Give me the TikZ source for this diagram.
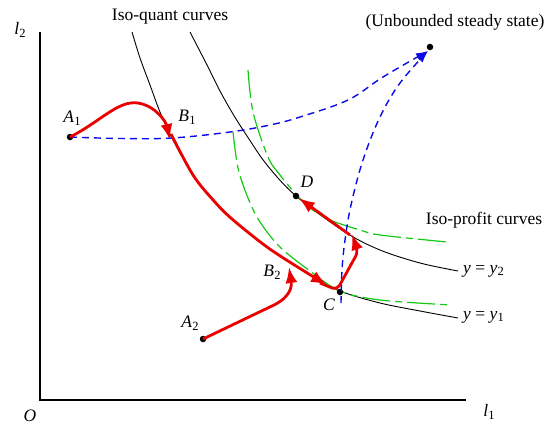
\documentclass[tikz,border=0pt]{standalone}
\usepackage{fontspec}
\setmainfont{Liberation Serif}
\usetikzlibrary{arrows.meta}
\newcommand\sublab[2]{\textit{#1}\kern0.3pt\raisebox{-0.35ex}{\fontsize{12.5}{14}\selectfont #2}}
\definecolor{pgreen}{RGB}{20,200,20}
\definecolor{pblue}{RGB}{10,10,230}
\definecolor{pred}{RGB}{235,0,0}
\begin{document}
\begin{tikzpicture}[x=1pt,y=-1pt,
  font=\fontsize{17.5}{20}\selectfont,
  axisline/.style={line width=1.3pt},
  quant/.style={line width=0.9pt},
  profit/.style={pgreen,line width=1.2pt,dash pattern=on 28pt off 5pt on 7pt off 5pt},
  bluedash/.style={pblue,line width=1.4pt,dash pattern=on 7pt off 5pt,-{Latex[length=12pt,width=8pt]}},
  redpath/.style={pred,line width=2.8pt,-{Latex[length=16pt,width=12pt]}},
  dot/.style={circle,fill=black,inner sep=0pt,minimum size=6.5pt},
  lbl/.style={inner sep=1pt}]
\useasboundingbox (0,0) rectangle (551,428);
% axes
\coordinate (O) at (40,400);
\coordinate (Ytop) at (40,32);
\coordinate (Xend) at (466,400);
\draw[axisline] (Ytop) -- (O) -- (Xend);
\node[lbl] (l2) at (20,30) {\sublab{l}{2}};
\node[lbl] (Olab) at (30,416) {\textit{O}};
\node[lbl] (l1) at (489,412) {\sublab{l}{1}};
% iso-quant curves
\draw[quant] plot[smooth,tension=0.55] coordinates {(132,32) (140,58) (150,85) (160,112) (172,138) (193,175) (214,201) (232,219) (267,247) (310,275) (340,291) (380,303) (420,311) (458,318)};
\draw[quant] plot[smooth,tension=0.55] coordinates {(190,32) (207,65) (220,91) (233,114) (247,136) (267,165) (296,196) (345,232) (380,250) (420,263) (458,271)};
% iso-profit curves
\draw[profit] plot[smooth,tension=0.55] coordinates {(248,70) (253,112) (268,157) (280,175) (295,193) (310,208) (330,220) (360,230) (380,235) (447,242)};
\draw[profit] plot[smooth,tension=0.55] coordinates {(233,132) (238,168) (248,198) (260,222) (280,247) (310,271) (340,291) (380,300) (452,305)};
% points
\node[dot] (A1) at (70,137) {};
\node[dot] (A2) at (203,339) {};
\node[dot] (C) at (340,292) {};
\node[dot] (D) at (296,196) {};
\node[dot] (U) at (430,47) {};
\coordinate (Cb) at (341,303);
% blue dashed paths
\draw[bluedash] plot[smooth,tension=0.6] coordinates {(A1.center) (120,138.5) (172,138) (230,132) (270,125) (300,117) (348,100) (383,77) (428,51)};
\draw[bluedash] plot[smooth,tension=0.6] coordinates {(Cb) (342,270) (345,240) (351,205) (363,160) (380,117) (400,83) (428,51)};
% red paths
\draw[redpath] (A1.center) .. controls (100,122) and (118,100) .. (138,103) .. controls (156,106) and (166,122) .. (170,140);
\draw[redpath] plot[smooth,tension=0.55] coordinates {(171,134) (193,175) (214,201) (232,219) (267,247) (300,268.5) (327,285)};
\draw[redpath,rounded corners=5pt] (320,283) -- (337,290) -- (358,252) -- (352,234);
\draw[redpath] (350,235) -- (D);
\draw[redpath] (A2.center) -- (274,305) .. controls (290,297) and (292,287) .. (289,267);
% labels
\node[lbl] (isoq) at (170,17) {Iso-quant curves};
\node[lbl] (unb) at (455,22) {(Unbounded steady state)};
\node[lbl] (A1lab) at (72,118) {\sublab{A}{1}};
\node[lbl] (B1lab) at (187,117) {\sublab{B}{1}};
\node[lbl] (Dlab) at (307,182) {\textit{D}};
\node[lbl] (isop) at (484,220) {Iso-profit curves};
\node[lbl,anchor=west] (y2lab) at (462,271) {\textit{y} = \sublab{y}{2}};
\node[lbl,anchor=west] (y1lab) at (462,317) {\textit{y} = \sublab{y}{1}};
\node[lbl] (B2lab) at (272,272) {\sublab{B}{2}};
\node[lbl] (Clab) at (329,305) {\textit{C}};
\node[lbl] (A2lab) at (190,323) {\sublab{A}{2}};
\end{tikzpicture}
\end{document}
